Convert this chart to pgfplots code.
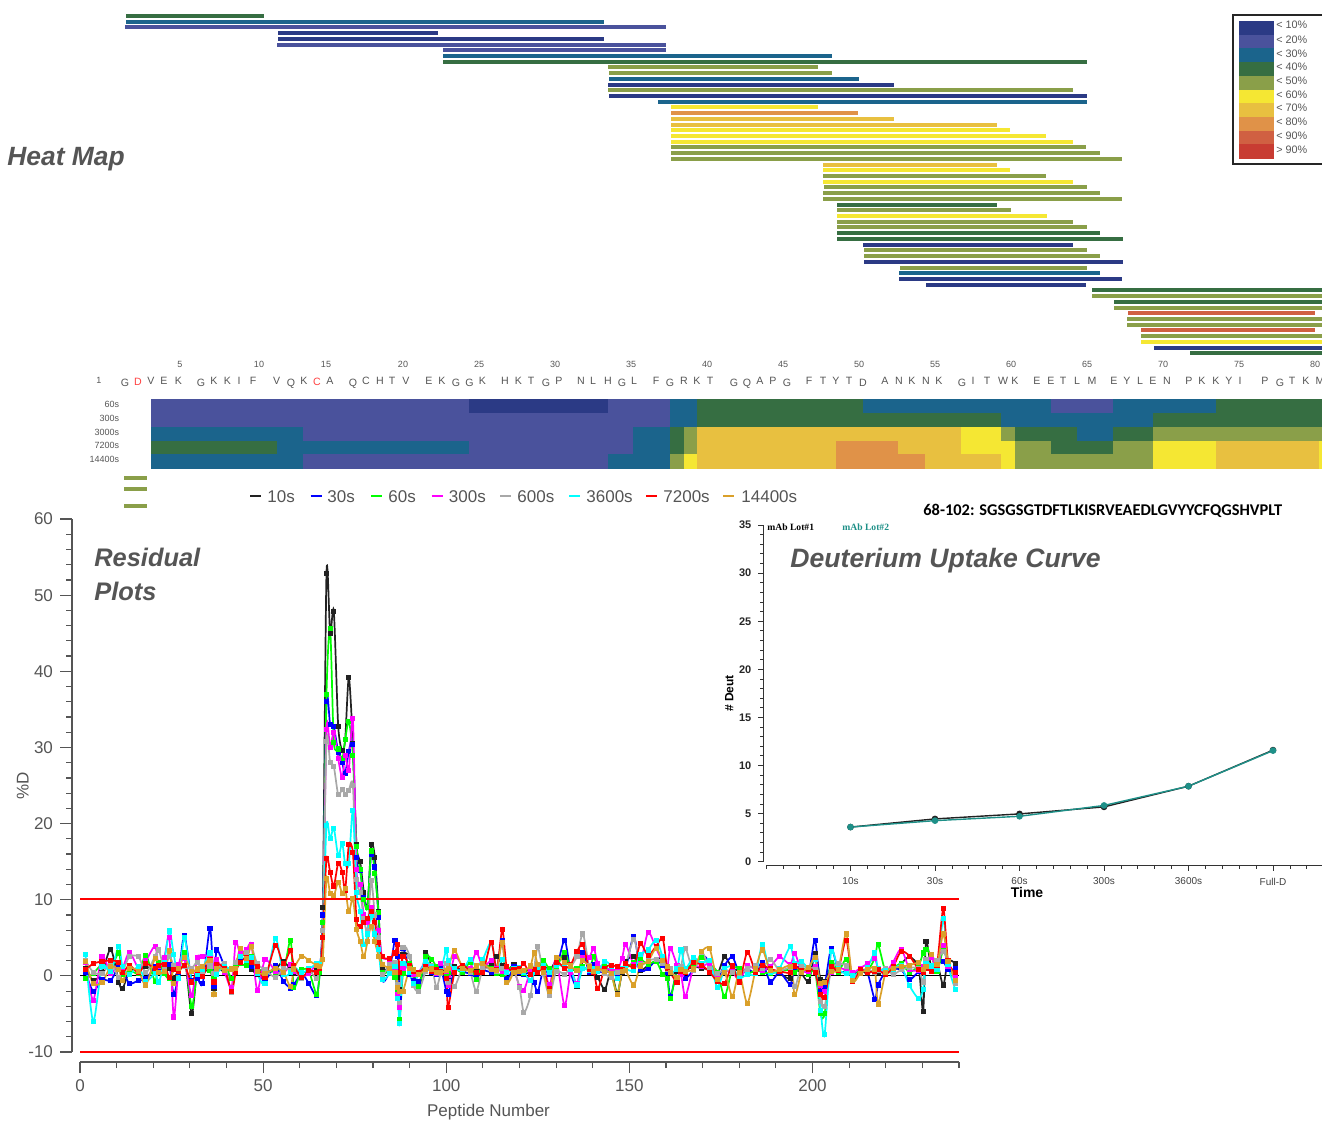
\documentclass[border=0pt]{standalone}
\usepackage{fontspec}
\setmainfont{Liberation Sans}
\newfontfamily\carlito{Carlito}
\newfontfamily\libserif{Liberation Serif}
\usepackage{pgfplots}
\usepackage{pgfplotstable}
\pgfplotsset{compat=1.18}

% 1 px of the reference = 0.5pt here
\definecolor{c10}{HTML}{2B3A85}
\definecolor{c20}{HTML}{4A529C}
\definecolor{c30}{HTML}{1B648C}
\definecolor{c40}{HTML}{366E42}
\definecolor{c50}{HTML}{8A9F49}
\definecolor{c60}{HTML}{F5E733}
\definecolor{c70}{HTML}{E8C040}
\definecolor{c80}{HTML}{E09248}
\definecolor{c90}{HTML}{D06042}
\definecolor{c99}{HTML}{C83C32}
\definecolor{txt}{HTML}{555555}
\definecolor{ser0}{HTML}{222222}
\definecolor{ser1}{HTML}{0000FF}
\definecolor{ser2}{HTML}{00FF00}
\definecolor{ser3}{HTML}{FF00FF}
\definecolor{ser4}{HTML}{A8A8A8}
\definecolor{ser5}{HTML}{00FFFF}
\definecolor{ser6}{HTML}{FF0000}
\definecolor{ser7}{HTML}{DAA02A}
\definecolor{teal0}{HTML}{1E9088}

\newcommand{\fs}[1]{\fontsize{#1}{#1}\selectfont}
\newcommand{\pos}[2]{at={(#1*0.5pt,-#2*0.5pt)}}
\newcommand{\pep}[4]{\addplot[line width=2pt,#1] coordinates {(#2,#4)(#3,#4)};}
\newcommand{\cell}[5]{\addplot[fill=#1,draw=#1,line width=0.1pt] coordinates {(#2,#4)(#3,#4)(#3,#5)(#2,#5)} -- cycle;}
\newcommand{\lgd}[2]{\addplot[#1,line width=0.8pt,mark=triangle*,mark size=1.7pt,mark indices={2},mark options={rotate=180}] coordinates {(#2,496)(#2+5.5,496)(#2+11,496)};}
\pgfplotsset{resid/.style={smooth,tension=0.45,line width=0.85pt,mark=square*,mark size=0.85pt}}

% x = peptide number; 10s 30s 60s 300s 600s 3600s 7200s 14400s
\pgfplotstableread{
x k b g m a c r o
1.5 1.0 0.5 -0.3 1.8 2.0 2.8 0.8 1.9
3.6 -0.6 -2.0 0.3 -3.2 0.5 -6.0 1.6 -1.0
6 0.4 -0.5 1.5 2.6 0.3 1.2 1.9 -0.9
8.4 3.5 -0.6 1.0 0.3 1.6 0.6 2.0 1.2
10.6 -0.8 1.3 3.0 1.8 -0.2 3.9 1.8 0.8
11.6 -1.7 0.8 0.2 1.0 0.5 1.2 0.4 -0.6
13.5 0.6 -1.0 0.8 3.1 2.5 0.2 1.4 1.0
16 0.9 -0.6 0.3 1.0 2.5 1.2 0.4 0.6
18 1.2 -0.4 2.7 2.0 0.4 -0.7 1.6 -1.2
20.5 0.8 1.2 -0.7 3.9 2.6 0.3 1.0 2.3
21.5 1.5 0.6 1.8 1.2 3.4 -0.8 1.4 0.5
23 0.6 1.4 0.3 2.4 1.0 1.8 1.5 0.6
24.4 1.0 1.5 -0.4 5.0 2.5 5.9 -0.2 3.3
25.6 -0.3 -2.4 0.8 -5.4 1.4 2.8 0.8 -1.0
27 1.0 0.5 1.5 1.5 0.8 -0.3 0.6 1.0
28.5 2.8 5.3 3.0 2.3 1.2 5.0 1.4 2.4
30.5 -5.0 -0.6 -4.0 -2.6 1.0 -0.7 -0.8 0.6
32 0.8 -0.3 0.5 2.4 1.8 0.2 0.7 0.9
33.5 0.3 -1.0 1.0 2.5 0.6 0.9 -0.1 1.2
35.5 1.0 6.2 0.7 2.7 1.3 3.0 2.2 2.0
36.6 -1.6 -1.4 -0.4 1.2 0.3 -2.4 -0.8 -2.5
37.3 1.0 3.4 0.8 2.1 0.8 0.2 1.5 1.0
39.5 0.5 1.2 1.4 0.4 1.6 1.2 0.9 0.7
41.4 0.8 -0.4 -0.3 -1.5 -2.2 0.8 -2.0 0.9
42.5 1.0 0.6 1.6 4.4 1.8 1.0 0.4 1.0
43.7 3.2 2.4 1.6 3.0 2.6 2.5 1.8 3.6
45.5 2.2 2.8 1.4 3.5 3.0 2.0 2.4 2.3
46.8 0.9 1.2 2.5 4.1 3.8 2.4 1.8 3.8
48.4 0.2 0.5 0.9 -1.9 1.6 0.3 1.2 0.6
50.5 0.4 -0.6 0.7 2.1 0.8 -1.0 -0.2 0.3
53.4 0.9 1.3 0.5 0.6 -0.2 4.9 4.0 1.0
55.5 1.9 -0.7 0.4 0.3 1.0 0.2 1.6 0.5
57.5 0.8 -1.6 4.7 1.5 0.7 0.4 3.3 -1.4
58.4 0.3 -1.2 -1.5 0.6 1.0 1.2 1.4 0.9
60.5 0.6 0.3 0.8 -0.1 -0.3 0.4 -0.2 2.6
62.5 0.4 -1.0 0.6 0.3 0.7 0.9 0.7 2.0
64.6 0.8 -2.6 -2.4 1.6 -0.3 1.6 0.5 1.4
65.5 1.0 0.8 0.5 1.5 1.2 1.6 1.0 1.2
66.3 9 8 7 6 6 5 5 2.2
67.3 52.9 36.0 37.0 32.4 30.8 19.8 15.4 12.8
68.3 45.0 33.0 45.6 30.0 28.0 18.0 13.6 10.8
69.3 47.9 32.7 30.7 32.0 27.5 19.4 11.8 10.5
70.5 32.8 29.4 29.8 28.5 23.8 15.8 14.8 12.3
71.6 29.6 28.0 28.5 26.0 24.5 17.4 13.6 10.8
72.4 31.0 26.6 31.0 29.0 23.8 14.7 11.2 11.5
73.4 39.2 29.5 33.4 27.0 24.4 14.7 17.2 8.4
74.5 30.5 30.4 29.0 33.8 25.0 21.7 16.2 10.2
75.5 17.2 15.6 17.0 14.0 12.7 11.0 7.4 6.1
76.5 15.0 13.8 14.0 12.0 11.0 8.5 6.5 4.5
77.5 11.0 10.3 10.0 8.0 7.5 4.1 7.0 2.5
78.5 9.0 9.0 9.0 7.0 6.0 5.5 7.5 4.5
79.5 17.2 16.0 16.4 9.0 12.5 7.9 8.5 6.5
80.5 15.6 14.3 13.5 7.0 8.0 5.5 7.0 4.5
81.5 8.5 7.7 8.3 6.0 5.0 3.5 4.4 2.6
82.5 1.0 -0.5 0.5 2.5 0.2 -0.5 2.5 1.5
84.5 1.3 0.7 0.9 2.1 1.5 0.3 2.3 1.0
86 1.5 4.7 -0.2 0.6 1.8 1.2 3.0 0.5
86.8 -0.2 2.5 -2.0 -2.5 -1.2 -3.0 4.1 -1.5
87.3 -1.8 -3.0 -5.7 -4.2 -3.5 -6.3 0.4 -2.0
88.2 2.8 3.6 0.3 1.0 3.7 1.6 2.6 -2.0
90 2.5 0.2 1.6 0.8 2.6 0.4 1.4 1.0
91 0.3 -0.6 0.8 0.2 -1.2 -1.0 0.6 0.8
92.5 -2.0 -0.8 -1.4 0.5 -2.0 0.2 0.4 0.2
94.4 3.0 1.0 2.5 1.8 0.6 1.9 1.2 0.8
96 1.2 0.5 2.2 0.7 1.3 1.2 0.6 0.9
97.3 0.6 0.2 1.2 0.3 -1.5 0.4 0.8 0.5
98.5 0.8 1.0 0.4 1.6 0.3 0.7 0.6 0.4
100 0.5 -2.0 0.3 0.6 1.6 3.4 -0.3 0.7
100.5 -0.6 -2.5 0.5 -1.2 -0.8 2.0 -4.1 1.0
102.3 1.2 0.8 1.0 2.6 -1.4 0.9 0.5 3.3
104.5 0.6 0.5 0.4 1.2 1.0 0.8 1.4 1.0
106.5 1.0 0.3 1.8 1.0 0.5 2.2 0.7 0.7
108.2 0.9 -0.2 -0.5 3.1 -2.0 1.2 0.5 1.3
110 0.8 0.7 1.5 1.2 0.9 2.2 0.4 1.6
112.3 1.6 0.5 1.0 2.0 0.8 4.4 4.4 0.8
113.8 2.6 1.0 0.3 0.9 0.6 0.7 0.8 0.7
115.3 1.4 4.6 0.2 0.6 1.0 2.2 6.1 4.4
116.5 0.6 -0.4 1.0 0.8 -0.9 0.5 1.2 -0.9
118.5 1.5 1.2 1.0 0.7 0.4 1.0 0.8 0.5
120 0.8 0.5 0.6 -1.4 -1.5 1.1 1.0 0.6
121.2 0.6 0.2 0.3 -1.9 -4.8 0.4 1.6 0.7
123 1.0 0.4 1.2 0.6 -2.6 -0.6 0.2 1.3
124 1.0 -0.9 0.6 0.5 1.0 0.5 0.8 3.0
125 1.0 -2.1 1.0 0.5 3.8 0.9 0.4 1.5
126.5 1.4 0.8 2.0 1.3 0.3 1.3 1.0 0.5
128.2 0.7 0.2 0.9 -1.2 -2.6 0.4 -1.6 -2.1
130 2.0 0.7 1.0 2.2 0.6 1.4 1.8 2.4
132.3 2.4 4.7 3.1 -3.9 0.2 1.2 1.0 1.8
134 0.9 0.4 0.8 0.5 1.2 0.8 1.5 1.3
135.7 -1.4 -1.3 1.0 -1.0 2.6 -1.2 3.2 0.7
137.3 2.0 3.0 1.2 2.4 5.5 1.0 4.1 2.0
139 1.2 0.5 0.8 2.4 1.3 0.7 0.9 1.2
140.3 0.6 1.5 2.5 3.6 0.5 1.0 0.4 0.6
141.4 -0.2 0.7 1.0 1.6 0.9 0.6 -1.7 1.0
143.3 -1.8 0.4 1.2 0.8 0.3 1.9 1.0 0.6
145 0.6 0.8 0.4 1.0 -0.2 1.3 1.4 0.3
146.7 -2.3 0.2 -2.4 0.7 0.5 -0.3 1.2 -2.4
148 0.5 1.0 0.8 2.3 0.8 1.0 0.8 0.6
149 1.9 0.9 1.0 4.1 1.4 0.9 1.6 0.7
151.2 2.6 5.2 1.8 1.5 4.8 0.7 1.2 -1.2
153 0.7 0.8 2.2 1.6 1.5 2.8 4.2 1.3
155.1 1.4 1.0 1.5 5.7 2.0 3.4 2.7 1.9
157.3 2.0 2.0 1.9 3.6 2.2 4.7 3.9 3.6
159.1 2.5 1.4 0.2 1.8 1.6 2.5 4.9 2.0
160.3 1.2 0.5 -0.3 0.9 0.8 1.2 1.0 1.2
161.2 0.3 -2.7 -3.0 3.6 1.0 0.5 0.4 0.5
163 0.6 0.8 0.9 1.4 -0.4 0.9 -0.8 -0.2
164.1 1.0 1.2 0.4 0.2 1.2 3.4 0.6 0.8
165.3 0.8 -0.3 1.0 -2.7 3.6 1.0 0.4 0.6
167.5 1.2 0.8 1.6 1.0 0.7 2.4 1.7 0.9
169.8 1.0 2.7 2.4 1.2 3.1 1.6 1.4 3.2
171.9 0.8 1.8 1.5 1.6 0.9 2.0 0.5 3.6
174 0.2 -0.2 0.5 -0.4 0.3 -1.5 -0.7 -0.5
176 2.5 1.4 -2.7 0.5 0.8 0.9 -1.0 0.5
178.1 1.0 2.5 0.9 0.6 0.5 1.2 1.3 -2.7
180 0.7 0.5 1.0 -0.6 0.3 -0.3 -0.8 0.4
182.2 0.5 0.9 0.3 1.3 0.9 0.2 3.1 -3.6
184.5 0.6 0.4 0.7 0.8 1.4 0.3 0.5 0.9
186.3 1.2 1.8 0.5 0.7 1.0 4.1 1.4 3.4
188.5 0.7 -0.8 0.3 1.2 2.2 0.5 0.9 0.7
191 0.3 0.5 0.6 2.5 0.7 1.0 0.6 0.8
193.9 -0.4 -1.1 0.8 1.5 1.0 3.8 0.4 1.2
195.2 0.9 1.1 0.4 2.9 -1.4 1.6 1.3 -2.5
197 0.3 1.0 1.2 0.7 1.2 1.9 0.7 0.4
199 -0.7 0.5 0.2 0.6 0.9 1.0 0.9 1.1
200.7 2.9 4.7 0.6 1.2 0.8 2.2 0.5 2.4
202.2 -0.5 -2.0 -5.0 -1.2 -3.4 -4.5 -2.5 -1.0
203.3 -0.8 -1.4 -5.0 -2.0 -4.0 -7.7 -2.8 -0.9
205.1 1.2 3.6 1.8 0.5 0.7 3.2 1.2 0.6
207 0.4 0.8 0.5 1.0 1.6 0.9 0.7 0.8
209.2 0.6 0.4 2.2 0.8 1.3 0.3 4.7 5.5
211 0.1 0.2 -0.2 0.4 -0.3 0.1 -0.7 -0.6
213 0.7 0.5 0.9 1.0 0.6 0.4 0.8 0.3
215 0.3 0.4 0.7 1.6 0.9 1.1 0.5 0.8
217 0.8 -3.1 2.3 2.3 0.4 3.0 0.6 0.9
217.9 0.5 -1.2 4.1 1.0 0.7 1.0 0.8 -3.7
220 1.0 0.6 0.5 0.5 0.9 0.7 0.2 0.5
222 0.7 0.9 1.0 1.8 0.2 0.9 1.2 1.0
224.2 1.6 0.8 1.6 3.5 0.8 1.3 3.2 1.2
226.5 2.5 -0.5 0.5 0.9 1.1 -1.3 2.6 1.4
229 1.0 0.6 1.4 0.7 0.9 -3.0 0.8 1.7
230.2 -4.7 1.0 3.0 1.2 -0.8 -1.8 0.5 0.8
231 4.5 2.2 3.5 1.8 2.2 1.6 1.0 1.2
232.5 0.9 0.8 2.6 2.4 1.0 1.3 0.6 2.8
234 1.7 1.5 0.6 1.0 2.0 0.8 1.4 1.5
235.7 -1.2 1.9 3.4 4.0 3.2 7.5 8.8 5.5
237 2.0 0.8 1.6 1.2 1.9 1.5 2.0 1.9
239 1.6 0.9 0.1 -0.2 -1.0 -1.8 0.4 -0.6
}\resid

\pgfplotstableread{
t k o
0 3.6 3.6
1 4.45 4.27
2 4.97 4.72
3 5.7 5.85
4 7.85 7.85
5 11.6 11.55
}\uptake

\begin{document}
\begin{tikzpicture}[x=0.5pt,y=-0.5pt]
\clip (0,0) rectangle (1322,1120);

% pixel-sized canvas: peptide map, heat strip, colour key
\begin{axis}[
\pos{661}{560},anchor=center,
width=661pt,height=560pt,scale only axis,
xmin=0,xmax=1322,ymin=0,ymax=1120,
y dir=reverse,hide axis,no markers]
\pep{c40}{126}{264}{16}
\pep{c30}{126}{604}{22}
\pep{c20}{125}{666}{27}
\pep{c10}{278}{438}{33}
\pep{c10}{278}{604}{39}
\pep{c20}{277}{666}{45}
\pep{c20}{443}{666}{50}
\pep{c30}{443}{832}{56}
\pep{c40}{443}{1087}{62}
\pep{c50}{608}{818}{67}
\pep{c50}{609}{832}{73}
\pep{c30}{609}{859}{79}
\pep{c10}{608}{894}{85}
\pep{c50}{608}{1073}{90}
\pep{c10}{609}{1087}{96}
\pep{c30}{658}{1087}{102}
\pep{c60}{671}{818}{107}
\pep{c80}{671}{858}{113}
\pep{c70}{671}{894}{119}
\pep{c70}{671}{997}{125}
\pep{c60}{671}{1010}{130}
\pep{c60}{671}{1046}{136}
\pep{c60}{671}{1073}{142}
\pep{c50}{671}{1086}{147}
\pep{c50}{671}{1100}{153}
\pep{c50}{671}{1122}{159}
\pep{c70}{823}{997}{165}
\pep{c60}{823}{1010}{170}
\pep{c50}{823}{1046}{176}
\pep{c60}{823}{1073}{182}
\pep{c50}{824}{1087}{187}
\pep{c50}{823}{1100}{193}
\pep{c50}{823}{1122}{199}
\pep{c40}{837}{997}{205}
\pep{c50}{837}{1011}{210}
\pep{c60}{837}{1047}{216}
\pep{c50}{837}{1073}{222}
\pep{c50}{837}{1087}{227}
\pep{c40}{837}{1100}{233}
\pep{c40}{837}{1123}{239}
\pep{c10}{863}{1073}{245}
\pep{c50}{864}{1087}{250}
\pep{c50}{864}{1100}{256}
\pep{c10}{864}{1123}{262}
\pep{c50}{900}{1087}{268}
\pep{c30}{899}{1100}{273}
\pep{c10}{899}{1122}{279}
\pep{c10}{926}{1086}{285}
\pep{c40}{1092}{1322}{290}
\pep{c50}{1092}{1322}{296}
\pep{c40}{1114}{1322}{302}
\pep{c50}{1114}{1322}{308}
\pep{c90}{1128}{1315}{313}
\pep{c50}{1127}{1322}{319}
\pep{c50}{1127}{1322}{325}
\pep{c90}{1141}{1315}{330}
\pep{c50}{1141}{1322}{336}
\pep{c60}{1141}{1322}{342}
\pep{c10}{1154}{1322}{348}
\pep{c40}{1190}{1322}{353}
\pep{c50}{124}{147}{478}
\pep{c50}{124}{147}{489}
\pep{c50}{124}{147}{506}

% heat strip, row by row
\cell{c20}{151}{469}{399}{413}
\cell{c10}{469}{608}{399}{413}
\cell{c20}{608}{670}{399}{413}
\cell{c30}{670}{697}{399}{413}
\cell{c40}{697}{863}{399}{413}
\cell{c30}{863}{1051}{399}{413}
\cell{c20}{1051}{1113}{399}{413}
\cell{c30}{1113}{1216}{399}{413}
\cell{c40}{1216}{1322}{399}{413}

\cell{c20}{151}{670}{413}{427}
\cell{c30}{670}{697}{413}{427}
\cell{c40}{697}{1001}{413}{427}
\cell{c30}{1001}{1153}{413}{427}
\cell{c40}{1153}{1322}{413}{427}

\cell{c30}{151}{303}{427}{441}
\cell{c20}{303}{633}{427}{441}
\cell{c30}{633}{670}{427}{441}
\cell{c40}{670}{684}{427}{441}
\cell{c50}{684}{697}{427}{441}
\cell{c70}{697}{961}{427}{441}
\cell{c60}{961}{1001}{427}{441}
\cell{c50}{1001}{1015}{427}{441}
\cell{c40}{1015}{1077}{427}{441}
\cell{c30}{1077}{1113}{427}{441}
\cell{c40}{1113}{1153}{427}{441}
\cell{c50}{1153}{1322}{427}{441}

\cell{c40}{151}{277}{441}{454}
\cell{c30}{277}{469}{441}{454}
\cell{c20}{469}{633}{441}{454}
\cell{c30}{633}{670}{441}{454}
\cell{c40}{670}{684}{441}{454}
\cell{c50}{684}{697}{441}{454}
\cell{c70}{697}{836}{441}{454}
\cell{c80}{836}{898}{441}{454}
\cell{c70}{898}{961}{441}{454}
\cell{c60}{961}{1015}{441}{454}
\cell{c50}{1015}{1051}{441}{454}
\cell{c40}{1051}{1113}{441}{454}
\cell{c50}{1113}{1153}{441}{454}
\cell{c60}{1153}{1216}{441}{454}
\cell{c70}{1216}{1319}{441}{454}
\cell{c60}{1319}{1322}{441}{454}

\cell{c30}{151}{303}{454}{468}
\cell{c20}{303}{608}{454}{468}
\cell{c30}{608}{670}{454}{468}
\cell{c50}{670}{684}{454}{468}
\cell{c60}{684}{697}{454}{468}
\cell{c70}{697}{836}{454}{468}
\cell{c80}{836}{925}{454}{468}
\cell{c70}{925}{1001}{454}{468}
\cell{c60}{1001}{1015}{454}{468}
\cell{c50}{1015}{1153}{454}{468}
\cell{c60}{1153}{1216}{454}{468}
\cell{c70}{1216}{1319}{454}{468}
\cell{c60}{1319}{1322}{454}{468}

% colour key
\cell{c10}{1239}{1273}{21}{35}
\cell{c20}{1239}{1273}{35}{48}
\cell{c30}{1239}{1273}{48}{62}
\cell{c40}{1239}{1273}{62}{76}
\cell{c50}{1239}{1273}{76}{90}
\cell{c60}{1239}{1273}{90}{103}
\cell{c70}{1239}{1273}{103}{117}
\cell{c80}{1239}{1273}{117}{131}
\cell{c90}{1239}{1273}{131}{144}
\cell{c99}{1239}{1273}{144}{158}

% time-point key above the residual plot
\lgd{ser0}{250}
\lgd{ser1}{310.5}
\lgd{ser2}{371}
\lgd{ser3}{431.5}
\lgd{ser4}{500}
\lgd{ser5}{569}
\lgd{ser6}{646}
\lgd{ser7}{723}
\end{axis}

% residual plot: data, pixel box 80..959 by 519..1052
\begin{axis}[
\pos{80}{1052},anchor=south west,
width=439.5pt,height=266.5pt,scale only axis,
xmin=0,xmax=240,ymin=-10,ymax=60,
hide axis,clip=false]
\addplot[black,line width=0.5pt] coordinates {(0,0)(240,0)};
\addplot[ser0,resid] table[x=x,y=k] {\resid};
\addplot[ser1,resid] table[x=x,y=b] {\resid};
\addplot[ser2,resid] table[x=x,y=g] {\resid};
\addplot[ser3,resid] table[x=x,y=m] {\resid};
\addplot[ser4,resid] table[x=x,y=a] {\resid};
\addplot[ser5,resid] table[x=x,y=c] {\resid};
\addplot[ser6,resid] table[x=x,y=r] {\resid};
\addplot[ser7,resid] table[x=x,y=o] {\resid};
\addplot[red,line width=0.75pt] coordinates {(0,10.1)(240,10.1)};
\addplot[red,line width=0.75pt] coordinates {(0,-10)(240,-10)};
\end{axis}

% residual x scale, set apart from the data
\begin{axis}[
\pos{80}{1062},anchor=south west,
width=439.5pt,height=1pt,scale only axis,
xmin=0,xmax=240,ymin=0,ymax=1,
axis x line*=bottom,axis y line=none,
x axis line style={draw=txt,line width=0.7pt},
xtick={0,50,100,150,200},
minor xtick={10,20,...,240},
tick align=outside,
major tick length=5.5pt,minor tick length=3pt,
every tick/.style={draw=txt,line width=0.6pt},
tick label style={text=txt,font=\fs{8.5}},
/pgf/number format/assume math mode=true,
xlabel={Peptide Number},
xlabel style={text=txt,font=\fs{8.5},xshift=-15.5pt,yshift=1pt}]
\end{axis}

% residual y scale
\begin{axis}[
\pos{72}{1052},anchor=south west,
width=1pt,height=266.5pt,scale only axis,
xmin=0,xmax=1,ymin=-10,ymax=60,
axis y line*=left,axis x line=none,
y axis line style={draw=txt,line width=0.7pt},
ytick={-10,0,...,60},
minor ytick={-8,-6,...,58},
tick align=outside,
major tick length=6pt,minor tick length=3pt,
every tick/.style={draw=txt,line width=0.6pt},
tick label style={text=txt,font=\fs{8.5}},
/pgf/number format/assume math mode=true,
ylabel={\%D},
ylabel shift=-7pt,
ylabel style={text=txt,font=\fs{8.5}}]
\end{axis}

% uptake curve: data
\begin{axis}[
\pos{766}{861.7},anchor=south west,
width=278pt,height=168.35pt,scale only axis,
xmin=-1,xmax=5.58,ymin=0,ymax=35,
hide axis,clip=false]
\addplot[ser0,line width=0.7pt,mark=*,mark size=1.3pt] table[x=t,y=k] {\uptake};
\addplot[teal0,line width=0.7pt,mark=*,mark size=1.3pt] table[x=t,y=o] {\uptake};
\end{axis}

% uptake x scale
\begin{axis}[
\pos{766}{865.7},anchor=south west,
width=278pt,height=1pt,scale only axis,
xmin=-1,xmax=5.58,ymin=0,ymax=1,
axis x line*=bottom,axis y line=none,
x axis line style={draw=black!80,line width=0.6pt},
xtick={0,1,2,3,4,5},
xticklabels={10s,30s,60s,300s,3600s,Full-D},
minor xtick={-1,-0.8,...,5.6},
tick align=outside,
major tick length=2.5pt,minor tick length=1.5pt,
every tick/.style={draw=black!80,line width=0.4pt},
tick label style={text=black!75,font=\fs{5}},
xlabel={\textbf{Time}},
xlabel style={font=\fs{7},xshift=-8.5pt,yshift=6pt}]
\end{axis}

% uptake y scale
\begin{axis}[
\pos{763.4}{861.7},anchor=south west,
width=1pt,height=168.35pt,scale only axis,
xmin=0,xmax=1,ymin=0,ymax=35,
axis y line*=left,axis x line=none,
y axis line style={draw=black!80,line width=0.6pt},
ytick={0,5,...,35},
minor ytick={0,1,...,35},
tick align=outside,
major tick length=2.5pt,minor tick length=1.5pt,
every tick/.style={draw=black!80,line width=0.4pt},
tick label style={font=\fs{5.5}\bfseries,text=black!85},
/pgf/number format/assume math mode=true,
ylabel={\textbf{\# Deut}},
ylabel shift=-4pt,
ylabel style={font=\fs{6}}]
\end{axis}

% colour key frame and labels
\draw[black!85,line width=0.7pt] (1330,15) -- (1233,15) -- (1233,164) -- (1330,164);
\foreach \l/\y in {{< 10\%}/28,{< 20\%}/43,{< 30\%}/57,{< 40\%}/70,{< 50\%}/84,{< 60\%}/98,{< 70\%}/111,{< 80\%}/125,{< 90\%}/139,{> 90\%}/153}
  \node[anchor=base west,inner sep=0,text=txt,font=\fs{5.4}] at (1276,\y) {\l};

% big captions
\node[anchor=base west,inner sep=0,text=txt,font=\fs{13.2}\bfseries\itshape] at (7,165) {Heat Map};
\node[anchor=base west,inner sep=0,text=txt,font=\fs{12.7}\bfseries\itshape] at (94,566) {Residual};
\node[anchor=base west,inner sep=0,text=txt,font=\fs{12.7}\bfseries\itshape] at (94,600) {Plots};
\node[anchor=base west,inner sep=0,text=txt,font=\fs{13.3}\bfseries\itshape] at (790,567) {Deuterium Uptake Curve};

% residue numbers
\foreach \n/\x in {5/180,10/259,15/326,20/403,25/479,30/555,35/631,40/707,45/783,50/859,55/935,60/1011,65/1087,70/1163,75/1239,80/1315}
  \node[anchor=base,inner sep=0,text=txt,font=\fs{4.5}] at (\x,367) {\n};
\node[anchor=base,inner sep=0,text=txt,font=\fs{4.5}] at (99,383) {1};

% sequence
\foreach \l/\x in {V/151,E/164,K/178.5,K/214,K/227.5,I/239,F/253,V/276.6,K/304,A/330,H/380,T/392,V/406,E/429,K/442,K/482.5,H/505,K/518.5,T/531,P/559,N/581,L/593,H/608,L/634,F/656,R/684,K/697,T/710,A/760,P/773,F/809,T/823,Y/836,T/849,A/885,N/899,K/912,N/926,K/939,I/973,T/987,W/1003,K/1015,E/1037,E/1051,T/1063,L/1077,M/1092,E/1114,Y/1127,L/1140,E/1153,N/1167,P/1189,K/1202,K/1216,Y/1229,I/1240,P/1265,T/1292,K/1306,M/1320,C/366}
  \node[anchor=base,inner sep=0,text=txt,font=\fs{5.3}] at (\x,384) {\l};
\foreach \l/\x in {G/125,G/201,Q/291,Q/353,G/456,G/469.5,G/546,G/622,G/670,G/734,Q/747,G/787,D/863,G/962,G/1280}
  \node[anchor=base,inner sep=0,text=txt,font=\fs{5.3}] at (\x,386) {\l};
\node[anchor=base,inner sep=0,text=red!75,font=\fs{5.3}] at (138,385) {D};
\node[anchor=base,inner sep=0,text=red!75,font=\fs{5.3}] at (317,385) {C};

% heat strip row names
\foreach \l/\y in {60s/407,300s/421,3000s/435,7200s/448,14400s/462}
  \node[anchor=base east,inner sep=0,text=txt,font=\fs{4.5}] at (119.5,\y) {\l};

% time-point key text
\foreach \l/\x in {10s/267,30s/327,60s/388,300s/448.5,600s/517,3600s/586,7200s/663,14400s/741}
  \node[anchor=base west,inner sep=0,text=txt,font=\fs{8.5}] at (\x,502) {\l};

% uptake header
\node[anchor=base west,inner sep=0,font=\carlito\bfseries\fs{8.2}] at (923,515) {68-102: SGSGSGTDFTLKISRVEAEDLGVYYCFQGSHVPLT};
\node[anchor=base west,inner sep=0,font=\libserif\bfseries\fs{4.8}] at (767,530) {mAb Lot\#1};
\node[anchor=base west,inner sep=0,text=teal0,font=\libserif\bfseries\fs{4.8}] at (842,530) {mAb Lot\#2};
\end{tikzpicture}
\end{document}
